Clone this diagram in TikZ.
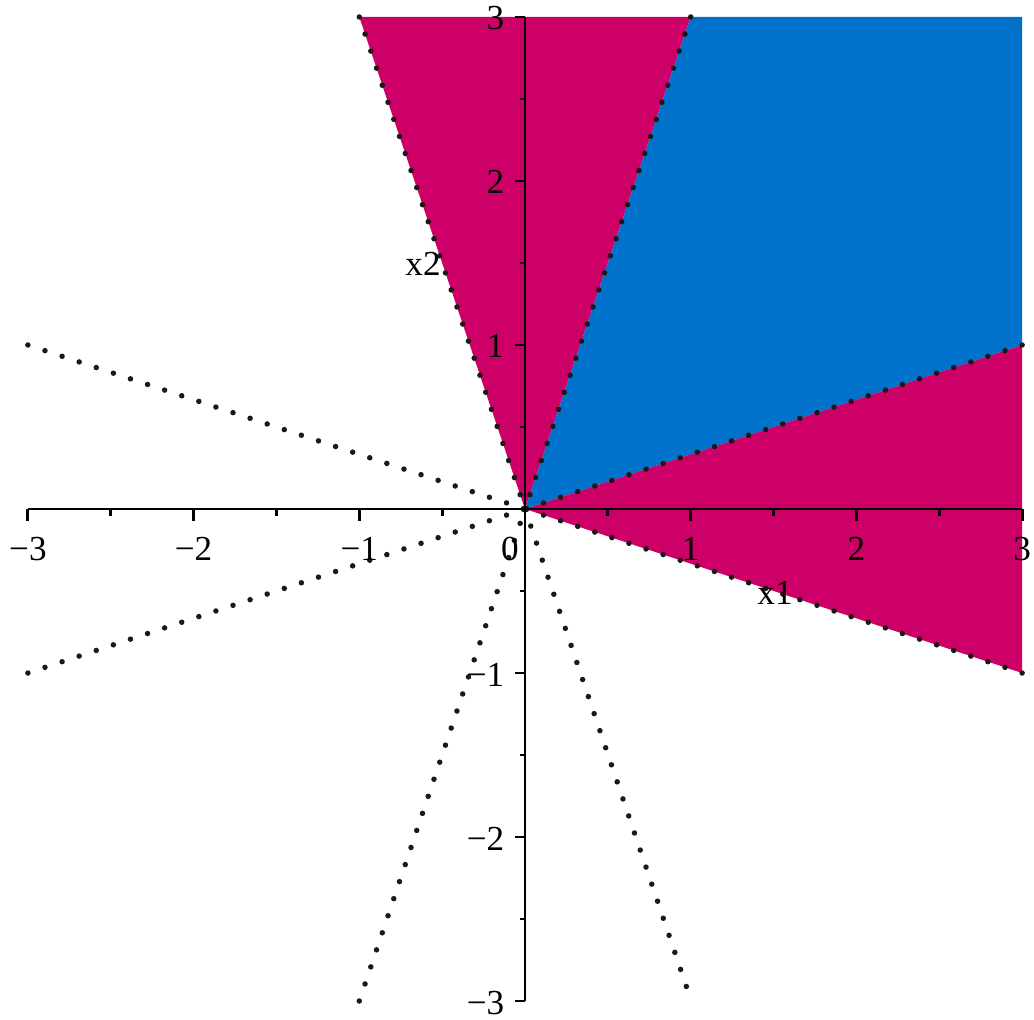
\documentclass[tikz,border=0pt]{standalone}
\usepackage{fontspec}
\setmainfont{Liberation Serif}
\usepackage{tikz}
\usetikzlibrary{positioning,calc}
\definecolor{wedgemag}{HTML}{CC0066}
\definecolor{wedgeblue}{HTML}{0072CC}
\tikzset{
  ray/.style      = {line width=0.055cm, line cap=round, dash pattern=on 0pt off 0.18cm, draw=black!90},
  axisline/.style = {line width=0.8pt, draw=black},
  tickmark/.style = {line width=0.8pt, draw=black},
  xlbl/.style     = {anchor=base, inner sep=0pt, yshift=-0.51cm},
  ylbl/.style     = {anchor=base east, inner sep=0pt, xshift=-0.2cm, yshift=-0.13cm},
  axlbl/.style    = {inner sep=0pt},
}

\begin{document}
\begin{tikzpicture}[x=1.657cm, y=1.64cm, font=\fontsize{10}{12}\selectfont]
  \useasboundingbox (-5.25cm,-5.10cm) rectangle (5.09cm,5.09cm);
  \coordinate (O) at (0,0);
  \foreach \n/\px/\py in {a/-1/3, b/1/3, c/3/3, d/3/1, e/3/-1,
                          f/-3/1, g/-3/-1, h/-1/-3, k/0.98/-2.93}
    \coordinate (\n) at (\px,\py);

  % shaded wedges
  \fill[wedgemag]  (O) -- (a) -- (b) -- cycle;
  \fill[wedgeblue] (O) -- (b) -- (c) -- (d) -- cycle;
  \fill[wedgemag]  (O) -- (d) -- (e) -- cycle;

  % dotted boundary rays
  \foreach \r in {a,b,d,e,f,g,h}
    \draw[ray] (\r) -- (O);
  \draw[ray] (O) -- (k);

  % axes and ticks
  \draw[axisline] (-3,0) -- (3,0);
  \draw[axisline] (0,-3) -- (0,3);
  \foreach \t in {-3,...,3} {
    \draw[tickmark] (\t,0) -- ++(0,-0.12cm);
    \draw[tickmark] (0,\t) -- ++(-0.1cm,0);
  }
  \foreach \t in {-2.5,-1.5,...,2.5} {
    \draw[tickmark] (\t,0) -- ++(0,-0.07cm);
    \draw[tickmark] (0,\t) -- ++(-0.05cm,0);
  }

  % tick labels
  \foreach \t/\s in {-3/−3, -2/−2, -1/−1, 1/1, 2/2, 3/3} {
    \node[xlbl] (xt\t) at (\t,0) {\s};
    \node[ylbl] (yt\t) at (0,\t) {\s};
  }
  \node[xlbl, xshift=-0.15cm] (xt0) at (O) {0};

  % axis names
  \node[axlbl] (xtwo) at ($(O)+(-1.02cm,2.45cm)$) {x2};
  \node[axlbl] (xone) at ($(O)+(2.50cm,-0.84cm)$) {x1};
\end{tikzpicture}
\end{document}
